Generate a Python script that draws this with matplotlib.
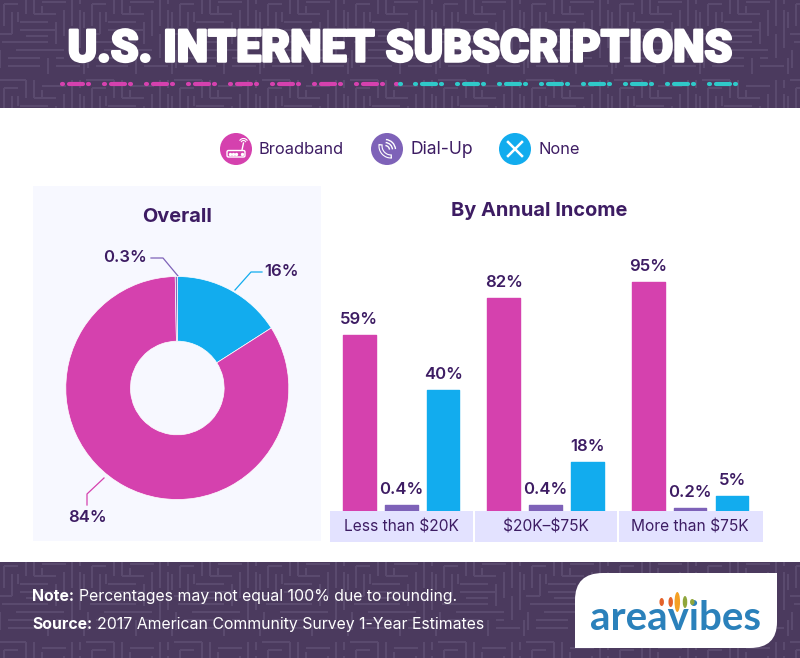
import numpy as np
import matplotlib
matplotlib.use("Agg")
import matplotlib.pyplot as plt
import matplotlib.patheffects as pe
from matplotlib.collections import LineCollection
from matplotlib.patches import Circle, Rectangle, PathPatch, Arc, Ellipse, FancyBboxPatch
from matplotlib.path import Path

# Data
income_groups = ["Less than $20K", "$20K\u2013$75K", "More than $75K"]
broadband = [59, 82, 95]
dial_up = [0.4, 0.4, 0.2]
no_internet = [40, 18, 5]
overall_values = [16, 84, 0.3]
overall_labels = ["16%", "84%", "0.3%"]

# The bars in the source are not drawn to a linear scale, so the y axis
# follows the heights
scale_values = [0, 0.2, 0.4, 5, 18, 40, 59, 82, 95, 100]
scale_heights = [0, 3, 6, 15, 49, 121, 176, 213, 229, 235]

PURPLE = "#3d1c63"
PINK = "#d541ae"
VIOLET = "#7e62b8"
BLUE = "#12acee"
TEAL = "#2fc9c9"
BANNER = "#4b3a5e"
MAZE = "#5a4a6e"
PANEL = "#f7f8ff"
CELL = "#e3e2ff"
FONT = ["Inter", "DejaVu Sans"]
TITLE_FONT = ["Roboto", "DejaVu Sans"]

plt.rcParams["font.family"] = FONT

fig = plt.figure(figsize=(8, 6.58), dpi=100)

# Page layer in pixel coordinates
page = fig.add_axes([0, 0, 1, 1])
page.set_xlim(0, 800)
page.set_ylim(658, 0)
page.axis("off")


def draw_maze(ax, top, bottom):
    # Repeats one hand drawn tile so the banners get the maze texture
    tile = [
        ((2, 4), (30, 4)), ((30, 4), (30, 22)), ((8, 12), (22, 12)),
        ((8, 12), (8, 34)), ((16, 20), (16, 42)), ((2, 42), (16, 42)),
        ((24, 30), (52, 30)), ((38, 4), (38, 22)), ((38, 22), (60, 22)),
        ((46, 10), (70, 10)), ((68, 18), (68, 44)), ((24, 38), (60, 38)),
        ((60, 30), (60, 52)), ((6, 50), (52, 50)), ((76, 4), (76, 34)),
        ((76, 42), (76, 66)), ((20, 58), (68, 58)), ((4, 58), (4, 76)),
        ((12, 66), (44, 66)), ((52, 66), (52, 82)), ((12, 74), (44, 74)),
        ((60, 74), (84, 74)), ((84, 18), (84, 56)), ((22, 20), (22, 30)),
        ((46, 14), (46, 22)), ((0, 20), (0, 36)), ((60, 66), (68, 66)),
        ((84, 4), (84, 12)), ((30, 44), (52, 44)), ((0, 66), (0, 82)),
    ]
    segs = []
    for ox in range(-4, 800, 88):
        for oy in range(top - 8, bottom, 84):
            for (x0, y0), (x1, y1) in tile:
                segs.append([(x0 + ox, y0 + oy), (x1 + ox, y1 + oy)])
    maze = LineCollection(segs, colors=MAZE, linewidths=1.5, zorder=1)
    page.add_collection(maze)
    maze.set_clip_path(Rectangle((0, top), 800, bottom - top, transform=ax.transData))


page.add_patch(Rectangle((0, 0), 800, 108, color=BANNER, lw=0, zorder=0))
page.add_patch(Rectangle((0, 562), 800, 96, color=BANNER, lw=0, zorder=0))
draw_maze(page, 0, 108)
draw_maze(page, 562, 658)
page.add_patch(Rectangle((33, 186), 288, 355, color=PANEL, lw=0, zorder=0))

page.text(400, 49.5, "U.S. INTERNET SUBSCRIPTIONS", color="white", ha="center", va="center",
          fontsize=32.1, fontweight="black", family=TITLE_FONT, zorder=3,
          path_effects=[pe.withStroke(linewidth=1.8, foreground="white")])


def dash(x0, x1, colour):
    page.plot([x0, x1], [84, 84], color=colour, lw=3, solid_capstyle="round", zorder=3)


# Dashed divider under the title
for i in range(8):
    for start, colour in ((60 + i * 42, PINK), (413 + i * 42, TEAL)):
        dash(start + 2, start + 3, colour)
        dash(start + 9, start + 23, colour)
        dash(start + 28, start + 29, colour)
dash(396, 397, PINK)
dash(400, 401, TEAL)

# Legend
for cx, colour, label, tx, fs in ((236, PINK, "Broadband", 259, 11.8), (387, VIOLET, "Dial-Up", 410, 12.6),
                                  (515, BLUE, "None", 539, 11.8)):
    page.add_patch(Circle((cx, 149), 16, color=colour, lw=0, zorder=2))
    page.text(tx, 149, label, color=PURPLE, fontsize=fs, va="center", ha="left", zorder=3)

# Router icon
page.add_patch(FancyBboxPatch((227, 150.5), 18, 6.5, boxstyle="round,pad=0,rounding_size=1.5",
                              fill=False, ec="white", lw=1, zorder=3))
page.plot([230, 233, 236, 242], [153.7, 153.7, 153.7, 153.7], ls="", marker="o", ms=1.4, color="white", zorder=3)
page.plot([242, 243.5], [150, 143], color="white", lw=1, zorder=3)
page.add_patch(Arc((243.5, 143), 5, 5, theta1=200, theta2=340, ec="white", lw=0.8, zorder=3))
page.add_patch(Arc((243.5, 143), 9, 9, theta1=210, theta2=330, ec="white", lw=0.8, zorder=3))
# Phone icon: thick white handset with a hollow centre
page.add_patch(Arc((391, 146), 21, 21, theta1=85, theta2=190, ec="white", lw=3, zorder=3))
page.add_patch(Arc((391, 146), 21, 21, theta1=92, theta2=183, ec=VIOLET, lw=1.4, zorder=3))
for diameter in (9, 15, 21):
    page.add_patch(Arc((385, 150), diameter, diameter, theta1=275, theta2=355, ec="white", lw=1, zorder=3))
# Cross icon
page.plot([508, 522], [142, 156], color="white", lw=1.8, zorder=3)
page.plot([522, 508], [142, 156], color="white", lw=1.8, zorder=3)

page.text(177, 216.5, "Overall", color=PURPLE, fontsize=14.4, fontweight="bold", ha="center", va="center", zorder=3)
page.text(539, 211, "By Annual Income", color=PURPLE, fontsize=14.4, fontweight="bold", ha="center", va="center", zorder=3)

# Pie leader lines and labels
page.plot([151, 163, 178], [258, 258, 276], color=VIOLET, lw=0.9, zorder=6)
page.plot([262, 251, 235], [272, 272, 290], color=BLUE, lw=0.9, zorder=6)
page.plot([87, 87, 104], [505, 494, 478], color=PINK, lw=0.9, zorder=6)
label_style = dict(color=PURPLE, fontsize=12, fontweight="semibold", ha="center", va="center", zorder=6)
page.text(124.5, 258, overall_labels[2], **label_style)
page.text(281.5, 271, overall_labels[0], **label_style)
page.text(87, 517, overall_labels[1], **label_style)

# Category cells under the bars
for x0, x1 in ((330, 473), (474.5, 617), (619, 763)):
    page.add_patch(Rectangle((x0, 511), x1 - x0, 31, color=CELL, lw=0, zorder=1))

# Donut
pie_ax = fig.add_axes([(177.3 - 111.5) / 800, (658 - 388 - 111.5) / 658, 223 / 800, 223 / 658])
pie_ax.pie(overall_values, colors=[BLUE, PINK, VIOLET], startangle=90, counterclock=False, radius=1,
           wedgeprops={"width": 0.58, "edgecolor": "white", "linewidth": 0.5})
pie_ax.set_xlim(-1, 1)
pie_ax.set_ylim(-1, 1)
pie_ax.set_aspect("auto")

# Bars
bar_ax = fig.add_axes([329.4 / 800, (658 - 511) / 658, 433 / 800, 235 / 658])
bar_ax.patch.set_alpha(0)
bar_ax.set_yscale("function", functions=(
    lambda v: np.interp(v, scale_values, scale_heights),
    lambda h: np.interp(h, scale_heights, scale_values),
))
x = np.arange(len(income_groups))
offset = 0.29
width = 0.226
for shift, series, colour in ((-offset, broadband, PINK), (0, dial_up, VIOLET), (offset, no_internet, BLUE)):
    bars = bar_ax.bar(x + shift, series, width, color=colour, edgecolor=colour, linewidth=1, joinstyle="round")
    for rect, value in zip(bars, series):
        text = "{:g}%".format(value)
        bar_ax.annotate(text, (rect.get_x() + rect.get_width() / 2, value), xytext=(0, 11.5),
                        textcoords="offset points", ha="center", va="center", color=PURPLE,
                        fontsize=12, fontweight="semibold")
bar_ax.set_xlim(-0.497, 2.5)
bar_ax.set_ylim(0, 100)
bar_ax.set_yticks([])
bar_ax.minorticks_off()
bar_ax.set_xticks(x)
bar_ax.set_xticklabels(income_groups, color=PURPLE, fontsize=11.2, parse_math=False)
bar_ax.tick_params(axis="x", length=0, pad=6)
for spine in bar_ax.spines.values():
    spine.set_visible(False)

# Footer
for y, head, body, body_x in ((601, "Note:", "Percentages may not equal 100% due to rounding.", 79),
                              (629, "Source:", "2017 American Community Survey 1-Year Estimates", 97)):
    page.text(32, y, head, color="white", fontsize=11.4, fontweight="bold", va="baseline", zorder=3)
    page.text(body_x, y, body, color="white", fontsize=11.4, va="baseline", zorder=3)

# Logo card: two rounded corners
card = Path([(575, 648), (575, 600), (575, 573), (603, 573), (777, 573), (777, 622), (777, 648), (750, 648), (575, 648)],
            [Path.MOVETO, Path.LINETO, Path.CURVE3, Path.CURVE3, Path.LINETO, Path.LINETO, Path.CURVE3, Path.CURVE3, Path.CLOSEPOLY])
page.add_patch(PathPatch(card, fc="white", ec="none", zorder=3))
page.text(675.5, 618, "areavibes", color="#2b81bb", fontsize=29, fontweight="bold", family=["Lato", "DejaVu Sans"],
          ha="center", va="center", zorder=4)
for cx, cy, w, h, colour in ((661.7, 602, 4.5, 8, "#e4622a"), (670.7, 602, 4.5, 10, "#e4622a"),
                             (677.3, 602, 5.5, 20, "#f4a024"), (685, 602, 4.5, 12, "#8fa63c"),
                             (692.3, 602, 4.5, 6, "#8fa63c")):
    page.add_patch(Ellipse((cx, cy), w, h, color=colour, lw=0, zorder=5))

fig.savefig("out.png", dpi=100)
